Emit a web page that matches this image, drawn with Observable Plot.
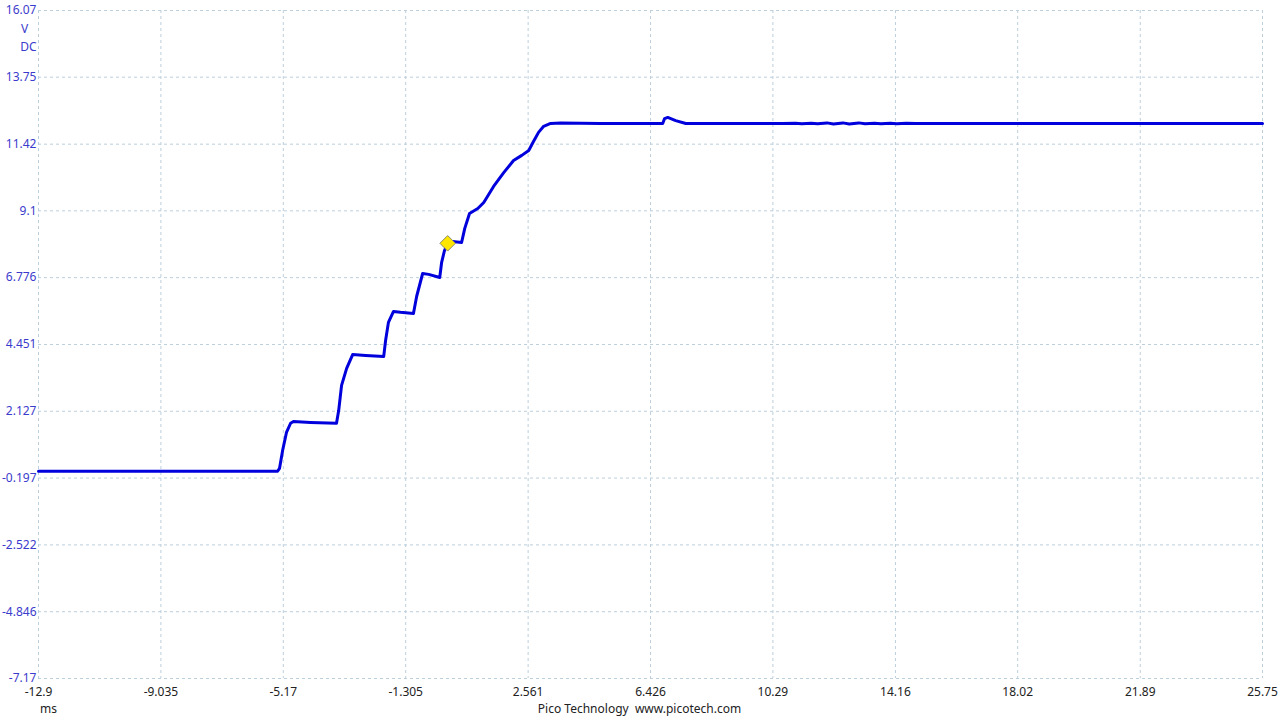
<!DOCTYPE html>
<html>
<head>
<meta charset="utf-8">
<script src="https://cdn.jsdelivr.net/npm/d3@7"></script>
<script src="https://cdn.jsdelivr.net/npm/@observablehq/plot@0.6"></script>
<style>
  html, body { margin: 0; padding: 0; background: #fff; }
  #chart { width: 1280px; height: 720px; }
</style>
</head>
<body>
<div id="chart"></div>
<script>
// Time (ms) and voltage (V) of the waveform
const timeMs = [-12.9, -5.35, -5.29, -5.19, -5.07, -4.94, -4.85, -4.31, -3.49, -3.42, -3.33, -3.17, -2.98, -2.57, -2.0,
  -1.94, -1.85, -1.69, -1.47, -1.06, -0.96, -0.77, -0.58, -0.23, -0.17, -0.08, 0.02, 0.18, 0.46, 0.56, 0.71, 0.97,
  1.16, 1.47, 1.79, 2.10, 2.36, 2.58, 2.73, 2.89, 3.05, 3.27, 3.59, 4.85, 6.81, 6.87, 6.97, 7.22, 7.54,
  10.6, 11.0, 11.2, 11.5, 11.7, 12.0, 12.2, 12.5, 12.7, 13.0, 13.2, 13.5, 13.7, 14.0, 14.2, 14.5, 14.8, 15.2, 15.6, 25.75];
const voltsV = [0.04, 0.04, 0.14, 0.77, 1.39, 1.71, 1.77, 1.74, 1.71, 2.16, 3.03, 3.62, 4.10, 4.07, 4.03,
  4.59, 5.22, 5.60, 5.57, 5.53, 6.12, 6.92, 6.89, 6.78, 7.31, 7.72, 7.97, 8.03, 8.00, 8.49, 9.01, 9.18,
  9.39, 9.95, 10.43, 10.85, 11.03, 11.20, 11.51, 11.83, 12.04, 12.14, 12.16, 12.14, 12.14, 12.31, 12.35, 12.24, 12.14,
  12.14, 12.15, 12.13, 12.15, 12.13, 12.16, 12.12, 12.16, 12.12, 12.16, 12.13, 12.15, 12.13, 12.15, 12.13, 12.15, 12.14, 12.14, 12.14, 12.14];

// Trigger marker
const markerT = [0.02];
const markerV = [7.97];

// Axis ticks and labels
const xTicks = [-12.9, -9.035, -5.17, -1.305, 2.561, 6.426, 10.29, 14.16, 18.02, 21.89, 25.75];
const xTickLabels = ["-12.9", "-9.035", "-5.17", "-1.305", "2.561", "6.426", "10.29", "14.16", "18.02", "21.89", "25.75"];
const yTicks = [16.07, 13.75, 11.42, 9.1, 6.776, 4.451, 2.127, -0.197, -2.522, -4.846, -7.17];
const yTickLabels = ["16.07", "13.75", "11.42", "9.1", "6.776", "4.451", "2.127", "-0.197", "-2.522", "-4.846", "-7.17"];

const wave = timeMs.map((t, i) => ({t, v: voltsV[i]}));
const marker = markerT.map((t, i) => ({t, v: markerV[i]}));

const gridColor = "#bccfdc";
const chart = Plot.plot({
  width: 1280,
  height: 720,
  marginLeft: 38,
  marginRight: 18,
  marginTop: 10,
  marginBottom: 42,
  style: {fontFamily: "'Noto Sans', 'Open Sans', sans-serif", fontSize: "12px", background: "#fff"},
  x: {domain: [-12.9, 25.75]},
  y: {domain: [-7.17, 16.07]},
  marks: [
    Plot.gridX(xTicks, {stroke: gridColor, strokeOpacity: 1, strokeDasharray: "3,3"}),
    Plot.gridY(yTicks, {stroke: gridColor, strokeOpacity: 1, strokeDasharray: "3,3"}),
    Plot.axisX(xTicks, {tickSize: 0, tickPadding: 9, label: null, fill: "#222",
      tickFormat: (d) => xTickLabels[xTicks.indexOf(d)], fontSize: 12}),
    Plot.axisY(yTicks, {tickSize: 0, tickPadding: 2, label: null, fill: "#3b3bcc",
      tickFormat: (d) => yTickLabels[yTicks.indexOf(d)], fontSize: 12}),
    Plot.text(["V"], {frameAnchor: "top-left", dx: -14, dy: 14, fill: "#3b3bcc", textAnchor: "middle", fontSize: 12}),
    Plot.text(["DC"], {frameAnchor: "top-left", dx: -10, dy: 32, fill: "#3b3bcc", textAnchor: "middle", fontSize: 12}),
    Plot.text(["ms"], {frameAnchor: "bottom-left", dx: 10, dy: 34, fill: "#222", textAnchor: "middle", fontSize: 12}),
    Plot.text(["Pico Technology\u00a0\u00a0www.picotech.com"], {frameAnchor: "bottom", dx: -11, dy: 34, fill: "#222", textAnchor: "middle", fontSize: 12}),
    Plot.line(wave, {x: "t", y: "v", stroke: "#0000dd", strokeWidth: 3, strokeLinejoin: "round", curve: "linear"}),
    Plot.dot(marker, {x: "t", y: "v", symbol: "diamond2", r: 7, fill: "#ffe600", stroke: "#8a8a70", strokeWidth: 1})
  ]
});
document.getElementById("chart").append(chart);
</script>
</body>
</html>
